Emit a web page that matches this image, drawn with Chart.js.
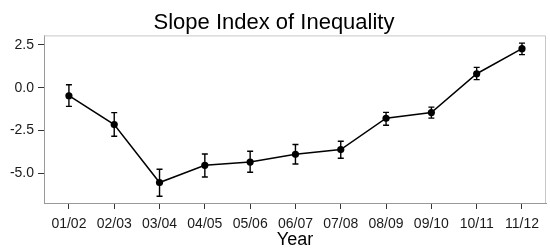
<!DOCTYPE html>
<html>
<head>
<meta charset="utf-8">
<script src="https://cdn.jsdelivr.net/npm/chart.js@4/dist/chart.umd.min.js"></script>
<style>
  html, body { margin: 0; padding: 0; background: #fff; }
  #wrap { width: 550px; height: 248px; }
</style>
</head>
<body>
<div id="wrap"><canvas id="c" width="550" height="248"></canvas></div>
<script>
const years = ["01/02","02/03","03/04","04/05","05/06","06/07","07/08","08/09","09/10","10/11","11/12"];
const sii   = [-0.47, -2.15, -5.52, -4.52, -4.33, -3.88, -3.60, -1.78, -1.45, 0.81, 2.27];
const lower = [-1.09, -2.83, -6.32, -5.20, -4.92, -4.44, -4.11, -2.19, -1.77, 0.47, 1.92];
const upper = [ 0.17, -1.45, -4.75, -3.86, -3.70, -3.31, -3.12, -1.44, -1.13, 1.18, 2.59];
const yTicks = [-5, -2.5, 0, 2.5];

const FONT = "'Liberation Sans', Arial, sans-serif";

const errorBars = {
  id: 'errorBars',
  afterDatasetsDraw(chart) {
    const ctx = chart.ctx, x = chart.scales.x, y = chart.scales.y;
    ctx.save();
    ctx.strokeStyle = '#000';
    ctx.lineWidth = 1.4;
    for (let i = 0; i < years.length; i++) {
      const px = x.getPixelForValue(i);
      const pt = y.getPixelForValue(upper[i]);
      const pb = y.getPixelForValue(lower[i]);
      ctx.beginPath();
      ctx.moveTo(px, pt); ctx.lineTo(px, pb);
      ctx.moveTo(px - 3, pt); ctx.lineTo(px + 3, pt);
      ctx.moveTo(px - 3, pb); ctx.lineTo(px + 3, pb);
      ctx.stroke();
    }
    ctx.restore();
  }
};

const panelBorder = {
  id: 'panelBorder',
  beforeDatasetsDraw(chart) {
    const a = chart.chartArea, ctx = chart.ctx;
    ctx.save();
    ctx.strokeStyle = '#c8c8c8';
    ctx.lineWidth = 1;
    ctx.beginPath();
    ctx.moveTo(a.left, a.top + 0.5);
    ctx.lineTo(a.right - 0.5, a.top + 0.5);
    ctx.lineTo(a.right - 0.5, a.bottom);
    ctx.stroke();
    ctx.restore();
  }
};

new Chart(document.getElementById('c'), {
  type: 'line',
  data: {
    datasets: [{
      data: sii.map((v, i) => ({ x: i, y: v })),
      borderColor: '#000',
      backgroundColor: '#000',
      borderWidth: 1.5,
      pointRadius: 3.6,
      pointBackgroundColor: '#000',
      pointBorderWidth: 0,
      tension: 0
    }]
  },
  options: {
    responsive: false,
    animation: false,
    layout: { padding: { left: 0, right: 2, top: 0, bottom: 0 } },
    plugins: {
      legend: { display: false },
      tooltip: { enabled: false },
      title: {
        display: true,
        text: 'Slope Index of Inequality',
        color: '#000',
        font: { family: FONT, size: 22, weight: 'normal' },
        padding: { top: 10, bottom: -1 }
      }
    },
    scales: {
      x: {
        type: 'linear',
        min: -0.55,
        max: 10.53,
        afterBuildTicks(s) { s.ticks = years.map((_, i) => ({ value: i })); },
        afterFit(s) { s.height = 45; },
        ticks: {
          autoSkip: false,
          maxRotation: 0,
          padding: 7,
          color: '#1a1a1a',
          font: { family: FONT, size: 14 },
          callback: (v) => years[v]
        },
        grid: { drawOnChartArea: false, drawTicks: true, tickLength: 6, color: '#333', lineWidth: 1 },
        border: { display: true, color: '#999', width: 1 },
        title: {
          display: true,
          text: 'Year',
          color: '#000',
          font: { family: FONT, size: 18 },
          padding: { top: 0, bottom: -3 }
        }
      },
      y: {
        min: -6.71,
        max: 3.04,
        afterBuildTicks(s) { s.ticks = yTicks.map(v => ({ value: v })); },
        afterFit(s) { s.width = 44; },
        ticks: {
          padding: 4,
          color: '#1a1a1a',
          font: { family: FONT, size: 14 },
          callback: (v) => Number(v).toFixed(1)
        },
        grid: { drawOnChartArea: false, drawTicks: true, tickLength: 6, color: '#333', lineWidth: 1 },
        border: { display: true, color: '#999', width: 1 }
      }
    }
  },
  plugins: [panelBorder, errorBars]
});
</script>
</body>
</html>
